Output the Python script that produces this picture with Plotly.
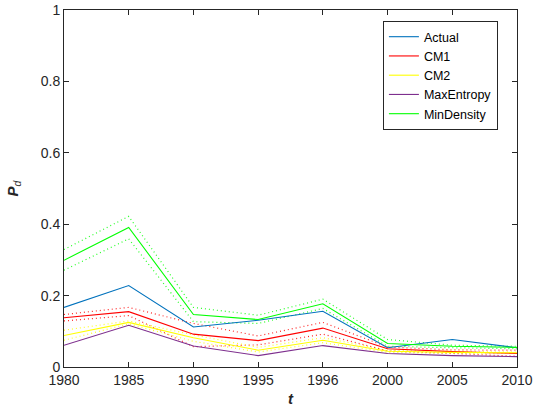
import plotly.graph_objects as go

years = ["1980", "1985", "1990", "1995", "1996", "2000", "2005", "2010"]

actual = [0.167, 0.228, 0.112, 0.131, 0.156, 0.054, 0.077, 0.054]
cm1 = [0.138, 0.155, 0.092, 0.074, 0.109, 0.051, 0.043, 0.038]
cm1_hi = [0.147, 0.167, 0.122, 0.087, 0.125, 0.056, 0.048, 0.047]
cm1_lo = [0.129, 0.144, 0.057, 0.062, 0.092, 0.045, 0.038, 0.030]
cm2 = [0.088, 0.125, 0.082, 0.047, 0.075, 0.044, 0.041, 0.040]
cm2_hi = [0.103, 0.129, 0.090, 0.055, 0.082, 0.047, 0.044, 0.042]
cm2_lo = [0.075, 0.121, 0.072, 0.042, 0.068, 0.041, 0.038, 0.038]
maxent = [0.061, 0.117, 0.059, 0.032, 0.060, 0.038, 0.032, 0.029]
mind = [0.299, 0.391, 0.147, 0.133, 0.177, 0.066, 0.058, 0.055]
mind_hi = [0.329, 0.422, 0.167, 0.145, 0.190, 0.077, 0.061, 0.058]
mind_lo = [0.271, 0.359, 0.127, 0.122, 0.164, 0.058, 0.054, 0.051]

C_BLUE = "#0072BD"
C_RED = "#FF0000"
C_YEL = "#FFFF00"
C_PUR = "#7E2F8E"
C_GRN = "#00FF00"

fig = go.Figure()

def solid(y, name, color):
    fig.add_trace(go.Scatter(x=years, y=y, name=name, mode="lines",
                             line=dict(color=color, width=1.1)))

def dotted(y, color):
    fig.add_trace(go.Scatter(x=years, y=y, mode="lines", showlegend=False,
                             line=dict(color=color, width=1.2, dash="1px,3px"),
                             opacity=0.85, hoverinfo="skip"))

dotted(cm1_hi, C_RED); dotted(cm1_lo, C_RED)
dotted(cm2_hi, C_YEL); dotted(cm2_lo, C_YEL)
dotted(mind_hi, C_GRN); dotted(mind_lo, C_GRN)

solid(actual, "Actual", C_BLUE)
solid(cm1, "CM1", C_RED)
solid(cm2, "CM2", C_YEL)
solid(maxent, "MaxEntropy", C_PUR)
solid(mind, "MinDensity", C_GRN)

axis_common = dict(showline=True, linecolor="#262626", linewidth=1, mirror="ticks",
                   ticks="inside", ticklen=5, tickcolor="#262626", showgrid=False,
                   zeroline=False, tickfont=dict(family="Liberation Sans", size=14, color="#262626"))

fig.update_xaxes(type="category", categoryorder="array", categoryarray=years,
                 range=[0, 7], ticklabeloverflow="allow",
                 title=dict(text="<b><i>t</i></b>", font=dict(family="Liberation Sans", size=15, color="#262626"), standoff=6),
                 **axis_common)
fig.update_yaxes(range=[0, 1], tickvals=[0, 0.2, 0.4, 0.6, 0.8, 1], ticktext=["0", "0.2", "0.4", "0.6", "0.8", "1"],
                 title=dict(text="<b><i>P</i></b><sub><i>d</i></sub>", font=dict(family="Liberation Sans", size=15, color="#262626"), standoff=18),
                 **axis_common)

fig.update_layout(
    width=536, height=416,
    margin=dict(l=64, r=19, t=10, b=49, autoexpand=False),
    plot_bgcolor="white", paper_bgcolor="white",
    showlegend=True,
    legend=dict(x=0.704, y=0.969, xanchor="left", yanchor="top",
                bordercolor="#262626", borderwidth=1, bgcolor="white",
                font=dict(family="Liberation Sans", size=12.5, color="black"),
                tracegroupgap=0, itemwidth=30),
)

fig.write_html("out.html", config={"displayModeBar": False},
               post_script="document.body.style.margin='0';document.body.style.padding='0';")
